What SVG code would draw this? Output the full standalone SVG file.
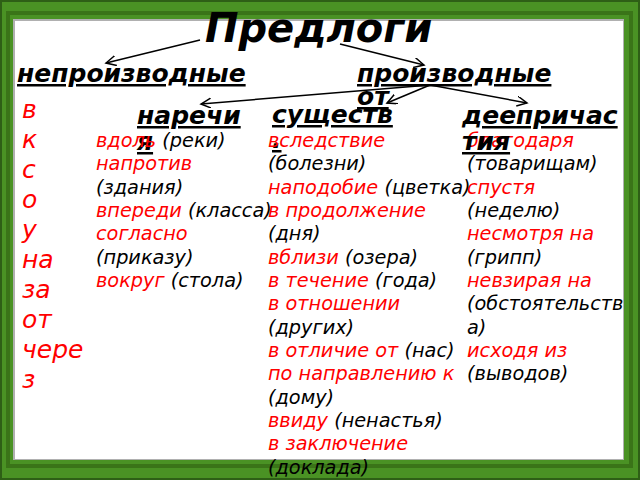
<svg xmlns="http://www.w3.org/2000/svg" width="640" height="480" viewBox="0 0 640 480">
<defs>
<marker id="ah" markerWidth="12" markerHeight="12" refX="10" refY="5" orient="auto" markerUnits="userSpaceOnUse">
<path d="M0,0 L10,5 L0,10" fill="none" stroke="#000" stroke-width="1.5"/>
</marker>
</defs>
<style>
text{font-family:"DejaVu Sans",Verdana,sans-serif;font-style:italic}
.t{font-weight:bold;font-size:40px;fill:#000}
.h{font-weight:bold;font-size:25px;fill:#000;text-decoration:underline}
.p{font-size:25px;fill:#f00}
.e{font-size:19.3px;fill:#000}
.r{fill:#f00}
.ln{stroke:#000;stroke-width:1.5;fill:none}
</style>
<g id="frame">
<rect x="0" y="0" width="640" height="480" fill="#2e5f16"/>
<rect x="2" y="2" width="636" height="476" fill="#4a9224"/>
<rect x="8" y="13" width="623" height="453" fill="none" stroke="#3a7418" stroke-width="4"/>
<rect x="13" y="19" width="611" height="441" fill="#b0b0b0"/>
<rect x="15" y="21" width="608" height="438" fill="#fff"/>
</g>
<g id="connectors">
<line class="ln" x1="200" y1="40" x2="106" y2="63" marker-end="url(#ah)"/>
<line class="ln" x1="340" y1="44" x2="424" y2="65" marker-end="url(#ah)"/>
<line class="ln" x1="430" y1="85" x2="201" y2="104" marker-end="url(#ah)"/>
<line class="ln" x1="430" y1="85" x2="387" y2="103" marker-end="url(#ah)"/>
<line class="ln" x1="430" y1="85" x2="527" y2="103" marker-end="url(#ah)"/>
</g>
<g id="title"><text class="t" x="205" y="42">Предлоги</text></g>
<g id="nonderived">
<text class="h" x="17" y="82">непроизводные</text>
<text class="p" x="22"><tspan x="22" y="118">в</tspan><tspan x="22" y="148">к</tspan><tspan x="22" y="178">с</tspan><tspan x="22" y="208">о</tspan><tspan x="22" y="238">у</tspan><tspan x="22" y="268">на</tspan><tspan x="22" y="298">за</tspan><tspan x="22" y="328">от</tspan><tspan x="22" y="358">чере</tspan><tspan x="22" y="388">з</tspan></text>
</g>
<g id="derived">
<text class="h" x="357" y="82">производные</text>
<text class="h" x="357" y="105">от</text>
</g>
<g id="adverbs">
<text class="h" x="137" y="124">наречи</text>
<text class="h" x="137" y="150">я</text>
<text class="e" x="96" y="147"><tspan class="r">вдоль</tspan> (реки)</text>
<text class="e r" x="96" y="170">напротив</text>
<text class="e" x="96" y="194">(здания)</text>
<text class="e" x="96" y="217"><tspan class="r">впереди</tspan> (класса)</text>
<text class="e r" x="96" y="240">согласно</text>
<text class="e" x="96" y="264">(приказу)</text>
<text class="e" x="96" y="287"><tspan class="r">вокруг</tspan> (стола)</text>
</g>
<g id="nouns">
<text class="h" x="272" y="123">существ</text>
<text class="h" x="272" y="148">.</text>
<text class="e r" x="268" y="147">вследствие</text>
<text class="e" x="268" y="170">(болезни)</text>
<text class="e" x="268" y="194"><tspan class="r">наподобие</tspan> (цветка)</text>
<text class="e r" x="268" y="217">в продолжение</text>
<text class="e" x="268" y="240">(дня)</text>
<text class="e" x="268" y="264"><tspan class="r">вблизи</tspan> (озера)</text>
<text class="e" x="268" y="287"><tspan class="r">в течение</tspan> (года)</text>
<text class="e r" x="268" y="310">в отношении</text>
<text class="e" x="268" y="334">(других)</text>
<text class="e" x="268" y="357"><tspan class="r">в отличие от</tspan> (нас)</text>
<text class="e r" x="268" y="380">по направлению к</text>
<text class="e" x="268" y="404">(дому)</text>
<text class="e" x="268" y="427"><tspan class="r">ввиду</tspan> (ненастья)</text>
<text class="e r" x="268" y="450">в заключение</text>
<text class="e" x="268" y="474">(доклада)</text>
</g>
<g id="gerunds">
<text class="h" x="462" y="124">деепричас</text>
<text class="e r" x="467" y="147">благодаря</text>
<text class="h" x="462" y="150">тия</text>
<text class="e" x="467" y="170">(товарищам)</text>
<text class="e r" x="467" y="194">спустя</text>
<text class="e" x="467" y="217">(неделю)</text>
<text class="e r" x="467" y="240">несмотря на</text>
<text class="e" x="467" y="264">(грипп)</text>
<text class="e r" x="467" y="287">невзирая на</text>
<text class="e" x="467" y="310">(обстоятельств</text>
<text class="e" x="467" y="334">а)</text>
<text class="e r" x="467" y="357">исходя из</text>
<text class="e" x="467" y="380">(выводов)</text>
</g>
</svg>
